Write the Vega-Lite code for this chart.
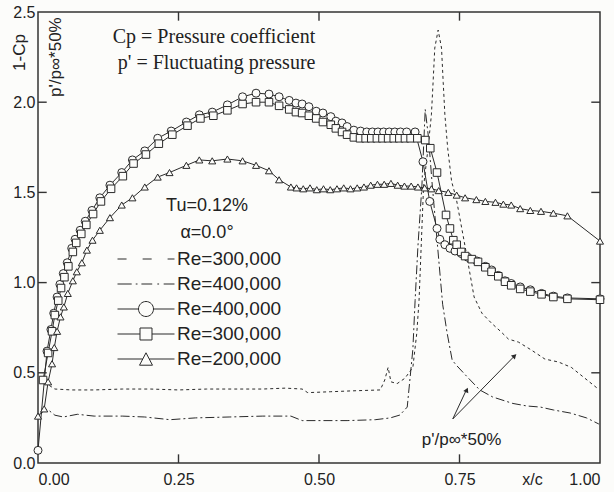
{
"$schema": "https://vega.github.io/schema/vega-lite/v6.json",
"width": 562, "height": 451,
"autosize": {"type": "none"},
"padding": {"left": 38, "top": 12, "right": 14, "bottom": 29},
"background": "#fcfcfa",
"config": {
  "view": {"stroke": "#333", "strokeWidth": 1.5},
  "axis": {"domain": false, "ticks": false, "grid": false, "labelFont": "Liberation Sans", "labelFontSize": 16, "labelColor": "#222", "titleFont": "Liberation Sans", "titleFontSize": 17, "titleFontWeight": "normal", "titleColor": "#222"}
},
"datasets": {
"xticks": [{"t": 0.25}, {"t": 0.5}, {"t": 0.75}],
"yticks": [{"t": 0.5}, {"t": 1.0}, {"t": 1.5}, {"t": 2.0}],
"curves": [
{"series":"c400","x":0.0,"y":0.07},{"series":"c400","x":0.016,"y":0.62},{"series":"c400","x":0.023,"y":0.74},{"series":"c400","x":0.028,"y":0.83},{"series":"c400","x":0.034,"y":0.92},{"series":"c400","x":0.039,"y":0.99},{"series":"c400","x":0.045,"y":1.05},{"series":"c400","x":0.052,"y":1.11},{"series":"c400","x":0.06,"y":1.19},{"series":"c400","x":0.066,"y":1.24},{"series":"c400","x":0.075,"y":1.29},{"series":"c400","x":0.084,"y":1.34},{"series":"c400","x":0.096,"y":1.40},{"series":"c400","x":0.11,"y":1.47},{"series":"c400","x":0.128,"y":1.54},{"series":"c400","x":0.149,"y":1.61},{"series":"c400","x":0.168,"y":1.68},{"series":"c400","x":0.19,"y":1.73},{"series":"c400","x":0.213,"y":1.80},{"series":"c400","x":0.237,"y":1.84},{"series":"c400","x":0.264,"y":1.89},{"series":"c400","x":0.287,"y":1.93},{"series":"c400","x":0.31,"y":1.945},{"series":"c400","x":0.337,"y":1.985},{"series":"c400","x":0.364,"y":2.03},{"series":"c400","x":0.388,"y":2.05},{"series":"c400","x":0.411,"y":2.045},{"series":"c400","x":0.429,"y":2.03},{"series":"c400","x":0.447,"y":2.01},{"series":"c400","x":0.459,"y":1.995},{"series":"c400","x":0.47,"y":1.99},{"series":"c400","x":0.482,"y":1.975},{"series":"c400","x":0.495,"y":1.95},{"series":"c400","x":0.507,"y":1.94},{"series":"c400","x":0.521,"y":1.92},{"series":"c400","x":0.53,"y":1.895},{"series":"c400","x":0.541,"y":1.885},{"series":"c400","x":0.55,"y":1.865},{"series":"c400","x":0.562,"y":1.845},{"series":"c400","x":0.574,"y":1.84},{"series":"c400","x":0.585,"y":1.835},{"series":"c400","x":0.595,"y":1.835},{"series":"c400","x":0.605,"y":1.835},{"series":"c400","x":0.615,"y":1.835},{"series":"c400","x":0.625,"y":1.835},{"series":"c400","x":0.635,"y":1.835},{"series":"c400","x":0.645,"y":1.835},{"series":"c400","x":0.656,"y":1.835},{"series":"c400","x":0.671,"y":1.835},{"series":"c400","x":0.685,"y":1.67},{"series":"c400","x":0.697,"y":1.45},{"series":"c400","x":0.71,"y":1.30},{"series":"c400","x":0.715,"y":1.24},{"series":"c400","x":0.724,"y":1.21},{"series":"c400","x":0.733,"y":1.19},{"series":"c400","x":0.742,"y":1.175},{"series":"c400","x":0.754,"y":1.16},{"series":"c400","x":0.765,"y":1.14},{"series":"c400","x":0.781,"y":1.12},{"series":"c400","x":0.796,"y":1.09},{"series":"c400","x":0.807,"y":1.07},{"series":"c400","x":0.819,"y":1.04},{"series":"c400","x":0.831,"y":1.01},{"series":"c400","x":0.842,"y":0.995},{"series":"c400","x":0.858,"y":0.976},{"series":"c400","x":0.876,"y":0.96},{"series":"c400","x":0.896,"y":0.94},{"series":"c400","x":0.917,"y":0.925},{"series":"c400","x":0.942,"y":0.915},{"series":"c400","x":1.0,"y":0.91},
{"series":"c300","x":0.009,"y":0.46},{"series":"c300","x":0.018,"y":0.61},{"series":"c300","x":0.025,"y":0.73},{"series":"c300","x":0.030,"y":0.82},{"series":"c300","x":0.036,"y":0.90},{"series":"c300","x":0.041,"y":0.97},{"series":"c300","x":0.047,"y":1.03},{"series":"c300","x":0.054,"y":1.09},{"series":"c300","x":0.062,"y":1.17},{"series":"c300","x":0.068,"y":1.22},{"series":"c300","x":0.077,"y":1.27},{"series":"c300","x":0.086,"y":1.32},{"series":"c300","x":0.098,"y":1.38},{"series":"c300","x":0.112,"y":1.45},{"series":"c300","x":0.13,"y":1.52},{"series":"c300","x":0.151,"y":1.59},{"series":"c300","x":0.17,"y":1.66},{"series":"c300","x":0.192,"y":1.71},{"series":"c300","x":0.215,"y":1.77},{"series":"c300","x":0.239,"y":1.82},{"series":"c300","x":0.266,"y":1.87},{"series":"c300","x":0.289,"y":1.91},{"series":"c300","x":0.312,"y":1.925},{"series":"c300","x":0.337,"y":1.955},{"series":"c300","x":0.364,"y":1.99},{"series":"c300","x":0.388,"y":2.0},{"series":"c300","x":0.411,"y":2.0},{"series":"c300","x":0.429,"y":1.98},{"series":"c300","x":0.447,"y":1.96},{"series":"c300","x":0.459,"y":1.945},{"series":"c300","x":0.47,"y":1.94},{"series":"c300","x":0.482,"y":1.925},{"series":"c300","x":0.495,"y":1.91},{"series":"c300","x":0.507,"y":1.89},{"series":"c300","x":0.521,"y":1.875},{"series":"c300","x":0.53,"y":1.855},{"series":"c300","x":0.541,"y":1.835},{"series":"c300","x":0.55,"y":1.82},{"series":"c300","x":0.562,"y":1.805},{"series":"c300","x":0.573,"y":1.80},{"series":"c300","x":0.583,"y":1.80},{"series":"c300","x":0.593,"y":1.80},{"series":"c300","x":0.603,"y":1.80},{"series":"c300","x":0.613,"y":1.80},{"series":"c300","x":0.623,"y":1.80},{"series":"c300","x":0.633,"y":1.80},{"series":"c300","x":0.643,"y":1.80},{"series":"c300","x":0.653,"y":1.80},{"series":"c300","x":0.663,"y":1.80},{"series":"c300","x":0.675,"y":1.80},{"series":"c300","x":0.689,"y":1.79},{"series":"c300","x":0.698,"y":1.745},{"series":"c300","x":0.71,"y":1.61},{"series":"c300","x":0.726,"y":1.375},{"series":"c300","x":0.733,"y":1.30},{"series":"c300","x":0.739,"y":1.235},{"series":"c300","x":0.745,"y":1.21},{"series":"c300","x":0.753,"y":1.17},{"series":"c300","x":0.76,"y":1.147},{"series":"c300","x":0.772,"y":1.13},{"series":"c300","x":0.783,"y":1.115},{"series":"c300","x":0.796,"y":1.085},{"series":"c300","x":0.807,"y":1.06},{"series":"c300","x":0.819,"y":1.035},{"series":"c300","x":0.831,"y":1.005},{"series":"c300","x":0.842,"y":0.985},{"series":"c300","x":0.858,"y":0.965},{"series":"c300","x":0.876,"y":0.95},{"series":"c300","x":0.896,"y":0.935},{"series":"c300","x":0.917,"y":0.92},{"series":"c300","x":0.942,"y":0.91},{"series":"c300","x":1.0,"y":0.905},
{"series":"c200","x":0.0,"y":0.26},{"series":"c200","x":0.011,"y":0.30},{"series":"c200","x":0.018,"y":0.45},{"series":"c200","x":0.025,"y":0.55},{"series":"c200","x":0.029,"y":0.64},{"series":"c200","x":0.034,"y":0.73},{"series":"c200","x":0.04,"y":0.81},{"series":"c200","x":0.046,"y":0.865},{"series":"c200","x":0.053,"y":0.94},{"series":"c200","x":0.062,"y":1.01},{"series":"c200","x":0.069,"y":1.06},{"series":"c200","x":0.078,"y":1.11},{"series":"c200","x":0.087,"y":1.18},{"series":"c200","x":0.097,"y":1.235},{"series":"c200","x":0.11,"y":1.29},{"series":"c200","x":0.128,"y":1.36},{"series":"c200","x":0.149,"y":1.43},{"series":"c200","x":0.168,"y":1.47},{"series":"c200","x":0.19,"y":1.53},{"series":"c200","x":0.213,"y":1.585},{"series":"c200","x":0.234,"y":1.61},{"series":"c200","x":0.264,"y":1.65},{"series":"c200","x":0.287,"y":1.68},{"series":"c200","x":0.31,"y":1.675},{"series":"c200","x":0.337,"y":1.685},{"series":"c200","x":0.364,"y":1.675},{"series":"c200","x":0.388,"y":1.65},{"series":"c200","x":0.411,"y":1.62},{"series":"c200","x":0.429,"y":1.57},{"series":"c200","x":0.45,"y":1.53},{"series":"c200","x":0.46,"y":1.525},{"series":"c200","x":0.472,"y":1.52},{"series":"c200","x":0.484,"y":1.525},{"series":"c200","x":0.496,"y":1.515},{"series":"c200","x":0.508,"y":1.52},{"series":"c200","x":0.52,"y":1.515},{"series":"c200","x":0.532,"y":1.52},{"series":"c200","x":0.544,"y":1.525},{"series":"c200","x":0.556,"y":1.52},{"series":"c200","x":0.568,"y":1.525},{"series":"c200","x":0.58,"y":1.53},{"series":"c200","x":0.592,"y":1.54},{"series":"c200","x":0.604,"y":1.545},{"series":"c200","x":0.616,"y":1.545},{"series":"c200","x":0.628,"y":1.55},{"series":"c200","x":0.64,"y":1.54},{"series":"c200","x":0.652,"y":1.535},{"series":"c200","x":0.664,"y":1.535},{"series":"c200","x":0.676,"y":1.53},{"series":"c200","x":0.688,"y":1.525},{"series":"c200","x":0.70,"y":1.52},{"series":"c200","x":0.713,"y":1.51},{"series":"c200","x":0.73,"y":1.50},{"series":"c200","x":0.745,"y":1.485},{"series":"c200","x":0.76,"y":1.47},{"series":"c200","x":0.78,"y":1.46},{"series":"c200","x":0.796,"y":1.45},{"series":"c200","x":0.814,"y":1.445},{"series":"c200","x":0.828,"y":1.435},{"series":"c200","x":0.842,"y":1.43},{"series":"c200","x":0.858,"y":1.41},{"series":"c200","x":0.876,"y":1.40},{"series":"c200","x":0.895,"y":1.395},{"series":"c200","x":0.917,"y":1.385},{"series":"c200","x":0.942,"y":1.37},{"series":"c200","x":1.0,"y":1.23},
{"series":"p300","x":0.01,"y":0.44},{"series":"p300","x":0.02,"y":0.43},{"series":"p300","x":0.03,"y":0.41},{"series":"p300","x":0.06,"y":0.405},{"series":"p300","x":0.10,"y":0.405},{"series":"p300","x":0.15,"y":0.41},{"series":"p300","x":0.20,"y":0.41},{"series":"p300","x":0.25,"y":0.405},{"series":"p300","x":0.30,"y":0.41},{"series":"p300","x":0.35,"y":0.41},{"series":"p300","x":0.40,"y":0.41},{"series":"p300","x":0.44,"y":0.415},{"series":"p300","x":0.47,"y":0.41},{"series":"p300","x":0.48,"y":0.39},{"series":"p300","x":0.52,"y":0.395},{"series":"p300","x":0.56,"y":0.40},{"series":"p300","x":0.609,"y":0.405},{"series":"p300","x":0.617,"y":0.46},{"series":"p300","x":0.623,"y":0.53},{"series":"p300","x":0.628,"y":0.45},{"series":"p300","x":0.639,"y":0.44},{"series":"p300","x":0.653,"y":0.47},{"series":"p300","x":0.667,"y":0.53},{"series":"p300","x":0.674,"y":0.72},{"series":"p300","x":0.678,"y":0.90},{"series":"p300","x":0.686,"y":1.53},{"series":"p300","x":0.694,"y":1.745},{"series":"p300","x":0.70,"y":1.93},{"series":"p300","x":0.703,"y":2.11},{"series":"p300","x":0.706,"y":2.30},{"series":"p300","x":0.712,"y":2.40},{"series":"p300","x":0.718,"y":2.30},{"series":"p300","x":0.721,"y":2.11},{"series":"p300","x":0.724,"y":1.93},{"series":"p300","x":0.729,"y":1.745},{"series":"p300","x":0.736,"y":1.56},{"series":"p300","x":0.744,"y":1.47},{"series":"p300","x":0.76,"y":1.20},{"series":"p300","x":0.776,"y":0.92},{"series":"p300","x":0.79,"y":0.83},{"series":"p300","x":0.807,"y":0.775},{"series":"p300","x":0.824,"y":0.727},{"series":"p300","x":0.837,"y":0.687},{"series":"p300","x":0.855,"y":0.67},{"series":"p300","x":0.878,"y":0.626},{"series":"p300","x":0.902,"y":0.576},{"series":"p300","x":0.926,"y":0.56},{"series":"p300","x":0.949,"y":0.53},{"series":"p300","x":0.973,"y":0.47},{"series":"p300","x":0.995,"y":0.415},
{"series":"p400","x":0.005,"y":0.27},{"series":"p400","x":0.012,"y":0.30},{"series":"p400","x":0.02,"y":0.29},{"series":"p400","x":0.03,"y":0.265},{"series":"p400","x":0.045,"y":0.255},{"series":"p400","x":0.07,"y":0.27},{"series":"p400","x":0.10,"y":0.26},{"series":"p400","x":0.15,"y":0.26},{"series":"p400","x":0.19,"y":0.255},{"series":"p400","x":0.235,"y":0.24},{"series":"p400","x":0.28,"y":0.25},{"series":"p400","x":0.34,"y":0.255},{"series":"p400","x":0.40,"y":0.26},{"series":"p400","x":0.45,"y":0.26},{"series":"p400","x":0.47,"y":0.235},{"series":"p400","x":0.50,"y":0.235},{"series":"p400","x":0.55,"y":0.235},{"series":"p400","x":0.60,"y":0.24},{"series":"p400","x":0.627,"y":0.25},{"series":"p400","x":0.644,"y":0.266},{"series":"p400","x":0.657,"y":0.31},{"series":"p400","x":0.667,"y":0.63},{"series":"p400","x":0.671,"y":0.90},{"series":"p400","x":0.676,"y":1.20},{"series":"p400","x":0.683,"y":1.53},{"series":"p400","x":0.689,"y":1.96},{"series":"p400","x":0.695,"y":1.80},{"series":"p400","x":0.701,"y":1.56},{"series":"p400","x":0.711,"y":1.20},{"series":"p400","x":0.72,"y":0.88},{"series":"p400","x":0.728,"y":0.72},{"series":"p400","x":0.737,"y":0.57},{"series":"p400","x":0.745,"y":0.54},{"series":"p400","x":0.763,"y":0.48},{"series":"p400","x":0.786,"y":0.405},{"series":"p400","x":0.809,"y":0.366},{"series":"p400","x":0.845,"y":0.33},{"series":"p400","x":0.87,"y":0.316},{"series":"p400","x":0.894,"y":0.31},{"series":"p400","x":0.917,"y":0.294},{"series":"p400","x":0.947,"y":0.277},{"series":"p400","x":0.976,"y":0.25},{"series":"p400","x":0.998,"y":0.216}
]
},
"data": {"name": "curves"},
"layer": [
  {
    "transform": [{"filter": {"field": "series", "oneOf": ["c400", "c300", "c200"]}}],
    "mark": {"type": "line", "color": "#2a2a2a", "strokeWidth": 1},
    "encoding": {
      "x": {"field": "x", "type": "quantitative", "scale": {"domain": [0, 1], "nice": false}, "axis": {"orient": "bottom", "values": [0, 0.25, 0.5, 0.75, 1], "format": ".2f", "labelPadding": 8, "title": "x/c", "titleX": 494, "titleY": 16, "titleBaseline": "middle", "titleAlign": "center", "titleFontSize": 16}},
      "y": {"field": "y", "type": "quantitative", "scale": {"domain": [0, 2.5], "nice": false}, "axis": {"orient": "left", "values": [0, 0.5, 1, 1.5, 2, 2.5], "format": ".1f", "labelPadding": 3, "title": "1-Cp", "titleX": -19, "titleY": 40, "titleAngle": 270, "titleAlign": "center", "titleBaseline": "middle"}},
      "detail": {"field": "series"}
    }
  },
  {
    "data": {"name": "xticks"},
    "mark": {"type": "rule", "color": "#333", "strokeWidth": 1.4},
    "encoding": {"x": {"field": "t", "type": "quantitative"}, "y": {"datum": 0, "type": "quantitative"}, "y2": {"datum": 0.048}}
  },
  {
    "data": {"name": "xticks"},
    "mark": {"type": "rule", "color": "#333", "strokeWidth": 1.4},
    "encoding": {"x": {"field": "t", "type": "quantitative"}, "y": {"datum": 2.452, "type": "quantitative"}, "y2": {"datum": 2.5}}
  },
  {
    "data": {"name": "yticks"},
    "mark": {"type": "rule", "color": "#333", "strokeWidth": 1.4},
    "encoding": {"y": {"field": "t", "type": "quantitative"}, "x": {"datum": 0, "type": "quantitative"}, "x2": {"datum": 0.0155}}
  },
  {
    "data": {"name": "yticks"},
    "mark": {"type": "rule", "color": "#333", "strokeWidth": 1.4},
    "encoding": {"y": {"field": "t", "type": "quantitative"}, "x": {"datum": 0.9845, "type": "quantitative"}, "x2": {"datum": 1}}
  },
  {
    "transform": [{"filter": {"field": "series", "oneOf": ["p300", "p400"]}}],
    "mark": {"type": "line", "color": "#2a2a2a", "strokeWidth": 1},
    "encoding": {
      "x": {"field": "x", "type": "quantitative"},
      "y": {"field": "y", "type": "quantitative"},
      "strokeDash": {"field": "series", "scale": {"domain": ["p300", "p400"], "range": [[3, 3], [9, 3, 2, 3]]}, "legend": null}
    }
  },
  {
    "transform": [{"filter": {"field": "series", "oneOf": ["c400", "c300", "c200"]}}],
    "mark": {"type": "point", "filled": true, "fill": "#fcfcfa", "stroke": "#2a2a2a", "strokeWidth": 1, "opacity": 1},
    "encoding": {
      "x": {"field": "x", "type": "quantitative"},
      "y": {"field": "y", "type": "quantitative"},
      "shape": {"field": "series", "scale": {"domain": ["c400", "c300", "c200"], "range": ["circle", "square", "triangle-up"]}, "legend": null},
      "size": {"field": "series", "type": "nominal", "scale": {"domain": ["c400", "c300", "c200"], "range": [64, 50, 50]}, "legend": null}
    }
  },
  {
    "mark": {"type": "point", "fillOpacity": 0, "strokeOpacity": 0},
    "encoding": {
      "x": {"field": "x", "type": "quantitative"},
      "y": {"field": "y", "type": "quantitative"},
      "shape": {"field": "series", "scale": {"domain": ["p300", "p400", "c400", "c300", "c200"], "range": [
        "M-2.11,0H-1.44M-0.25,0H0.42M1.6,0H2.11",
        "M-2.11,0H-1.06M-0.76,0H-0.63M-0.34,0H0.46M0.84,0H0.97M1.31,0H2.11",
        "M-2.11,0H-0.556M0.556,0H2.11M-0.556,0A0.556,0.556 0 1,1 0.556,0A0.556,0.556 0 1,1 -0.556,0Z",
        "M-2.11,0H-0.444M0.444,0H2.11M-0.444,-0.444H0.444V0.444H-0.444Z",
        "M-2.11,0H-0.24M0.24,0H2.11M0,-0.46L0.48,0.46H-0.48Z"
      ]}, "legend": {
        "orient": "none", "legendX": 94, "legendY": 185,
        "title": ["Tu=0.12%", "α=0.0°"], "titleFont": "Liberation Sans", "titleFontSize": 18, "titleFontWeight": "normal", "titleColor": "#222", "titleAnchor": "middle", "titleLineHeight": 27, "titlePadding": 3,
        "labelFont": "Liberation Sans", "labelFontSize": 19, "labelColor": "#222", "labelOffset": 17,
        "labelExpr": "'Re=' + substring(datum.label, 1, 2) + '00,000'",
        "symbolSize": 729, "symbolStrokeColor": "#2a2a2a", "symbolFillColor": "#fcfcfa", "symbolStrokeWidth": 1, "symbolOpacity": 1,
        "rowPadding": 1, "padding": 0
      }}
    }
  },
  {
    "data": {"values": [{}]},
    "mark": {"type": "text", "font": "Liberation Serif", "fontSize": 20, "color": "#222", "align": "left", "baseline": "middle"},
    "encoding": {"x": {"datum": 0.133, "type": "quantitative"}, "y": {"datum": 2.36, "type": "quantitative"}, "text": {"value": "Cp = Pressure coefficient"}}
  },
  {
    "data": {"values": [{}]},
    "mark": {"type": "text", "font": "Liberation Serif", "fontSize": 20, "color": "#222", "align": "left", "baseline": "middle"},
    "encoding": {"x": {"datum": 0.142, "type": "quantitative"}, "y": {"datum": 2.217, "type": "quantitative"}, "text": {"value": "p' = Fluctuating pressure"}}
  },
  {
    "data": {"values": [{}]},
    "mark": {"type": "text", "font": "Liberation Sans", "fontSize": 17, "color": "#222", "align": "center", "baseline": "middle", "angle": 270},
    "encoding": {"x": {"datum": 0.032, "type": "quantitative"}, "y": {"datum": 2.25, "type": "quantitative"}, "text": {"value": "p'/p∞*50%"}}
  },
  {
    "data": {"values": [{}]},
    "mark": {"type": "text", "font": "Liberation Sans", "fontSize": 17, "color": "#222", "align": "left", "baseline": "middle"},
    "encoding": {"x": {"datum": 0.683, "type": "quantitative"}, "y": {"datum": 0.127, "type": "quantitative"}, "text": {"value": "p'/p∞*50%"}}
  },
  {
    "data": {"values": [{}]},
    "mark": {"type": "rule", "color": "#2a2a2a", "strokeWidth": 1},
    "encoding": {"x": {"datum": 0.738, "type": "quantitative"}, "y": {"datum": 0.244, "type": "quantitative"}, "x2": {"datum": 0.763}, "y2": {"datum": 0.41}}
  },
  {
    "data": {"values": [{}]},
    "mark": {"type": "rule", "color": "#2a2a2a", "strokeWidth": 1},
    "encoding": {"x": {"datum": 0.738, "type": "quantitative"}, "y": {"datum": 0.244, "type": "quantitative"}, "x2": {"datum": 0.85}, "y2": {"datum": 0.6}}
  },
  {
    "data": {"values": [{}]},
    "mark": {"type": "point", "shape": "triangle-up", "filled": true, "color": "#2a2a2a", "size": 30, "angle": 25, "opacity": 1},
    "encoding": {"x": {"datum": 0.763, "type": "quantitative"}, "y": {"datum": 0.405, "type": "quantitative"}}
  },
  {
    "data": {"values": [{}]},
    "mark": {"type": "point", "shape": "triangle-up", "filled": true, "color": "#2a2a2a", "size": 30, "angle": 45, "opacity": 1},
    "encoding": {"x": {"datum": 0.848, "type": "quantitative"}, "y": {"datum": 0.594, "type": "quantitative"}}
  }
],
"resolve": {"scale": {"shape": "independent", "size": "independent"}}
}
